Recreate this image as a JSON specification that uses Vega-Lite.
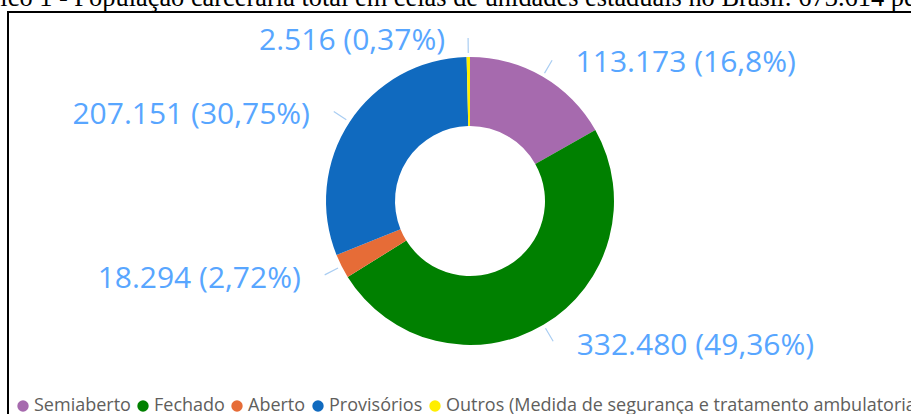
{
  "$schema": "https://vega.github.io/schema/vega-lite/v6.json",
  "width": 913,
  "height": 410,
  "autosize": "none",
  "padding": {"left": 8, "top": 12, "right": -10, "bottom": -8},
  "background": "white",
  "title": {
    "text": "Gráfico 1 - População carcerária total em celas de unidades estaduais no Brasil: 673.614 pessoas",
    "anchor": "start",
    "frame": "group",
    "font": "Liberation Serif",
    "fontSize": 26.4,
    "fontWeight": "normal",
    "color": "#000000",
    "baseline": "alphabetic",
    "offset": 0,
    "dx": -56,
    "dy": 21
  },
  "layer": [
    {
      "data": {"values": [{}]},
      "mark": {"type": "rect", "fill": null, "stroke": "#000000", "strokeWidth": 2},
      "encoding": {}
    },
    {
      "data": {
        "values": [
          {"categoria": "Semiaberto", "valor": 113173, "ordem": 1, "rotulo": "113.173 (16,8%)"},
          {"categoria": "Fechado", "valor": 332480, "ordem": 2, "rotulo": "332.480 (49,36%)"},
          {"categoria": "Aberto", "valor": 18294, "ordem": 3, "rotulo": "18.294 (2,72%)"},
          {"categoria": "Provisórios", "valor": 207151, "ordem": 4, "rotulo": "207.151 (30,75%)"},
          {"categoria": "Outros (Medida de segurança e tratamento ambulatorial)", "valor": 2516, "ordem": 5, "rotulo": "2.516 (0,37%)"}
        ]
      },
      "encoding": {
        "theta": {"field": "valor", "type": "quantitative", "stack": true},
        "order": {"field": "ordem", "type": "quantitative", "sort": "ascending"}
      },
      "layer": [
        {
          "mark": {"type": "arc", "innerRadius": 75, "outerRadius": 144, "x": 462, "y": 189},
          "encoding": {
            "color": {
              "field": "categoria",
              "type": "nominal",
              "scale": {
                "domain": ["Semiaberto", "Fechado", "Aberto", "Provisórios", "Outros (Medida de segurança e tratamento ambulatorial)"],
                "range": ["#A66AAE", "#008000", "#E66C37", "#106ABF", "#FFEE00"]
              },
              "legend": {
                "orient": "none",
                "legendX": 6,
                "legendY": 385,
                "direction": "horizontal",
                "title": null,
                "labelFont": "Open Sans",
                "labelFontSize": 18,
                "labelColor": "#605E5C",
                "symbolType": "circle",
                "symbolSize": 130,
                "symbolStrokeWidth": 0,
                "symbolOpacity": 1,
                "labelOffset": 2,
                "columnPadding": 3,
                "labelLimit": 1000,
                "padding": 0
              }
            }
          }
        },
        {
          "mark": {"type": "arc", "innerRadius": 148, "outerRadius": 163, "padAngle": 3.1, "x": 462, "y": 189, "fill": null, "stroke": "#A9CDF2", "strokeWidth": 1.2},
          "encoding": {}
        },
        {
          "mark": {"type": "text", "radius": 164, "x": 462, "y": 189, "align": "left", "baseline": "middle", "dx": 23, "dy": 4, "font": "Open Sans", "fontSize": 30, "color": "#58A6FF"},
          "encoding": {
            "text": {"condition": {"test": "indexof(['Semiaberto','Fechado'], datum.categoria) >= 0", "field": "rotulo"}, "value": ""}
          }
        },
        {
          "mark": {"type": "text", "radius": 164, "x": 462, "y": 189, "align": "right", "baseline": "middle", "dx": -23, "dy": 4, "font": "Open Sans", "fontSize": 30, "color": "#58A6FF"},
          "encoding": {
            "text": {"condition": {"test": "indexof(['Semiaberto','Fechado'], datum.categoria) < 0", "field": "rotulo"}, "value": ""}
          }
        }
      ]
    }
  ]
}
